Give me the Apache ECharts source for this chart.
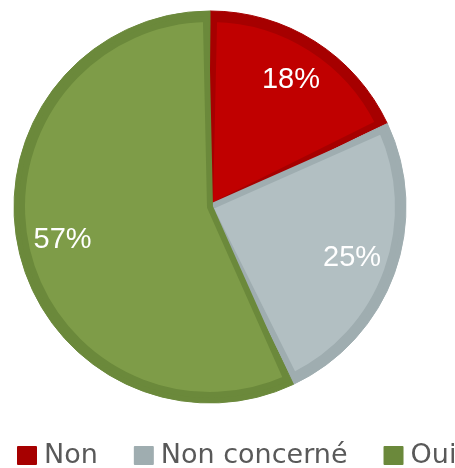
<!DOCTYPE html>
<html>
<head>
<meta charset="utf-8">
<script src="https://cdn.jsdelivr.net/npm/echarts@6/dist/echarts.min.js"></script>
<style>html,body{margin:0;padding:0;background:#fff;}#c{width:455px;height:468px;}</style>
</head>
<body>
<div id="c"></div>
<script>
const categories = ['Non', 'Non concerné', 'Oui'];
const values = [18, 25, 57];
const fillColors = ['#C00000', '#B2BFC2', '#7E9C48'];
const darkColors = ['#A60000', '#9FADB0', '#6B893B'];

const chart = echarts.init(document.getElementById('c'), null, {renderer: 'canvas'});
const center = [210, 207];

chart.setOption({
  animation: false,
  backgroundColor: '#ffffff',
  legend: {
    data: categories,
    left: 12,
    top: 437,
    width: 800,
    icon: 'rect',
    itemWidth: 18,
    itemHeight: 17,
    itemGap: 36,
    textStyle: {fontFamily: 'DejaVu Sans', fontSize: 27, color: '#595959', padding: [0, 0, 0, 3]}
  },
  series: [
    {
      type: 'pie', silent: true, center: center, radius: [0, 196],
      startAngle: 90, clockwise: true,
      label: {show: false}, labelLine: {show: false},
      data: categories.map((n, i) => ({name: n, value: values[i], itemStyle: {color: darkColors[i], borderColor: darkColors[i], borderWidth: 1}}))
    },
    {
      type: 'pie', silent: true, center: center, radius: [0, 188],
      startAngle: 90, clockwise: true, padAngle: 2.5,
      label: {show: false}, labelLine: {show: false},
      data: categories.map((n, i) => ({name: n, value: values[i], itemStyle: {color: fillColors[i], borderColor: darkColors[i], borderWidth: 6}}))
    },
    {
      type: 'pie', silent: true, center: center, radius: [118, 178],
      startAngle: 90, clockwise: true,
      itemStyle: {color: 'rgba(0,0,0,0)'},
      label: {show: true, position: 'inside', formatter: '{c}%', color: '#ffffff', fontFamily: 'Liberation Sans', fontSize: 29},
      labelLine: {show: false},
      data: categories.map((n, i) => ({name: n + ' ', value: values[i]}))
    }
  ]
});
</script>
</body>
</html>
